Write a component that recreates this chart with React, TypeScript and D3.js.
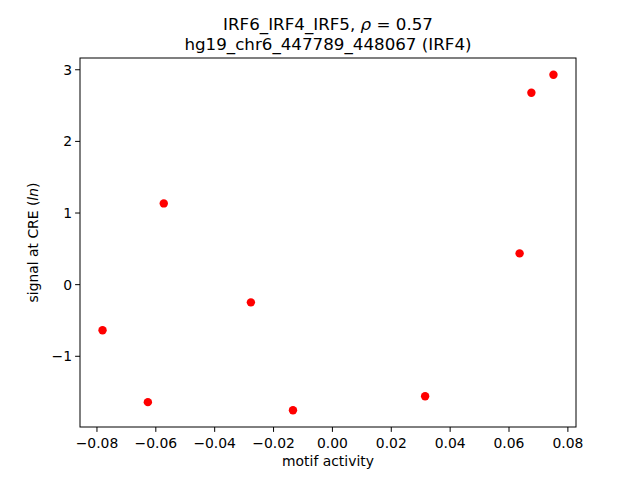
import React from "react";
import * as d3 from "d3";

const motifActivity = [-0.0781, -0.0627, -0.0573, -0.0277, -0.0134, 0.0315, 0.0636, 0.0676, 0.0751];
const signal = [-0.637, -1.64, 1.134, -0.247, -1.753, -1.558, 0.437, 2.68, 2.93];
const xTicks = [-0.08, -0.06, -0.04, -0.02, 0, 0.02, 0.04, 0.06, 0.08];
const yTicks = [-1, 0, 1, 2, 3];
const titleLines = ["IRF6_IRF4_IRF5, ", "hg19_chr6_447789_448067 (IRF4)"];

const W = 640, H = 480;
const L = 80, R = 576, T = 58, B = 427;

function pad(ext: [number, number]): [number, number] {
  const r = ext[1] - ext[0];
  return [ext[0] - 0.05 * r, ext[1] + 0.05 * r];
}

export default function App() {
  const x = d3.scaleLinear().domain(pad(d3.extent(motifActivity) as [number, number])).range([L, R]);
  const y = d3.scaleLinear().domain(pad(d3.extent(signal) as [number, number])).range([B, T]);
  const fmtX = (v: number) => d3.format(".2f")(v).replace("-", "\u2212");
  const fmtY = (v: number) => d3.format("d")(v).replace("-", "\u2212");
  const font = "DejaVu Sans, sans-serif";
  return (
    <svg width={W} height={H} style={{ position: "absolute", left: 0, top: 0, background: "#fff" }} fontFamily={font}>
      <rect x={0} y={0} width={W} height={H} fill="#fff" />
      {motifActivity.map((v, i) => (
        <circle key={i} cx={x(v)} cy={y(signal[i])} r={4.2} fill="#ff0000" />
      ))}
      <rect x={L} y={T} width={R - L} height={B - T} fill="none" stroke="#000" strokeWidth={1} />
      {xTicks.map((t) => (
        <g key={t}>
          <line x1={x(t)} x2={x(t)} y1={B} y2={B + 4.9} stroke="#000" />
          <text x={x(t)} y={448} fontSize={13.9} textAnchor="middle">{fmtX(t)}</text>
        </g>
      ))}
      {yTicks.map((t) => (
        <g key={t}>
          <line x1={L} x2={L - 4.9} y1={y(t)} y2={y(t)} stroke="#000" />
          <text x={L - 8} y={y(t)} dy="0.35em" fontSize={13.9} textAnchor="end">{fmtY(t)}</text>
        </g>
      ))}
      <text x={(L + R) / 2} y={466} fontSize={13.9} textAnchor="middle">motif activity</text>
      <text transform={`translate(38,${(T + B) / 2}) rotate(-90)`} fontSize={13.9} textAnchor="middle">
        signal at CRE (<tspan fontStyle="italic">ln</tspan>)
      </text>
      <text x={(L + R) / 2} y={30} fontSize={16.7} textAnchor="middle">
        {titleLines[0]}<tspan fontStyle="italic">ρ</tspan> = 0.57
      </text>
      <text x={(L + R) / 2} y={50} fontSize={16.7} textAnchor="middle">{titleLines[1]}</text>
    </svg>
  );
}
